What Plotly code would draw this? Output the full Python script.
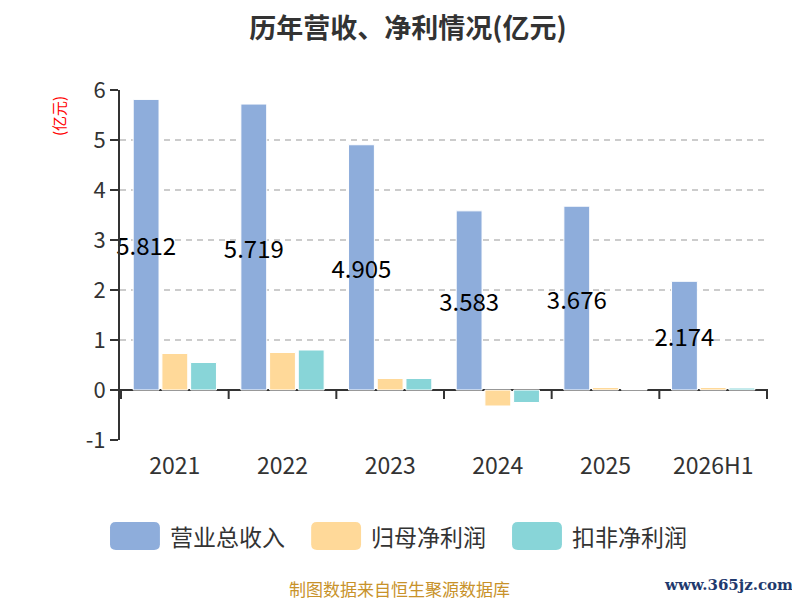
import plotly.graph_objects as go

# 数据 (亿元)
years = ["2021", "2022", "2023", "2024", "2025", "2026H1"]
revenue = [5.812, 5.719, 4.905, 3.583, 3.676, 2.174]
net_profit = [0.73, 0.75, 0.23, -0.32, 0.05, 0.05]
deducted_profit = [0.55, 0.80, 0.23, -0.25, 0.01, 0.04]

series_names = ["营业总收入", "归母净利润", "扣非净利润"]
colors = ["#8EADDB", "#FFD999", "#88D5D8"]

y_ticks = [-1, 0, 1, 2, 3, 4, 5, 6]
y_ticktext = ["-1", "0", "1", "2", "3", "4", "5", "6"]

font_cn = "Noto Sans CJK SC, Noto Sans, sans-serif"


# rounded rectangle path in paper coords
def round_rect(x0, y0, x1, y1, rx=0.009, ry=0.016):
    return (f"M {x0+rx},{y0} L {x1-rx},{y0} Q {x1},{y0} {x1},{y0-ry} "
            f"L {x1},{y1+ry} Q {x1},{y1} {x1-rx},{y1} L {x0+rx},{y1} "
            f"Q {x0},{y1} {x0},{y1+ry} L {x0},{y0-ry} Q {x0},{y0} {x0+rx},{y0} Z")


fig = go.Figure()
for name, vals, c in zip(series_names, [revenue, net_profit, deducted_profit], colors):
    fig.add_trace(go.Bar(
        x=years, y=vals, name=name,
        marker=dict(color=c, line=dict(color="white", width=1)),
        showlegend=False,
    ))

# revenue value labels in the middle of the bars
fig.data[0].update(
    text=[f"{v:.3f}" for v in revenue],
    textposition="inside", insidetextanchor="middle",
    textfont=dict(size=24, color="black", family=font_cn),
    textangle=0, constraintext="none", cliponaxis=False,
)

# tick marks on the zero line between categories
for i in range(len(years) + 1):
    fig.add_shape(type="line", xref="x", yref="y",
                  x0=i - 0.5, x1=i - 0.5, y0=0, y1=-9,
                  ysizemode="pixel", yanchor=0,
                  line=dict(color="#333333", width=2))

# custom legend (big rounded swatches)
legend_x = [-0.0154, 0.295, 0.605]
for name, c, lx in zip(series_names, colors, legend_x):
    fig.add_shape(type="path", xref="paper", yref="paper",
                  path=round_rect(lx, -0.234, lx + 0.077, -0.314),
                  fillcolor=c, line=dict(width=0))
    fig.add_annotation(xref="paper", yref="paper", x=lx + 0.09, y=-0.274,
                       text=name, showarrow=False, xanchor="left", yanchor="middle",
                       font=dict(size=23, color="#333333", family=font_cn))

fig.add_annotation(xref="paper", yref="paper", x=-0.094, y=0.926,
                   text="(亿元)", textangle=-90, showarrow=False,
                   xanchor="center", yanchor="middle",
                   font=dict(size=15, color="red", family=font_cn))
fig.add_annotation(xref="paper", yref="paper", x=0.432, y=-0.423,
                   text="制图数据来自恒生聚源数据库", showarrow=False,
                   xanchor="center", yanchor="middle",
                   font=dict(size=17, color="#C8922A", family=font_cn))
fig.add_annotation(xref="paper", yref="paper", x=1.042, y=-0.414,
                   text="<b>www.365jz.com</b>", showarrow=False,
                   xanchor="right", yanchor="middle",
                   font=dict(size=15, color="#1F3A6E", family="DejaVu Serif"))

fig.update_layout(
    width=800, height=600,
    paper_bgcolor="white", plot_bgcolor="white",
    margin=dict(l=112, r=40, t=82, b=168),
    title=dict(text="<b>历年营收、净利情况(亿元)</b>", x=0.5, y=0.966,
               xanchor="center", yanchor="middle",
               font=dict(size=27, color="#333333", family=font_cn)),
    barmode="group", bargap=0.2, bargroupgap=0.1,
    font=dict(family=font_cn, color="#333333"),
    xaxis=dict(showline=False, ticks="outside", ticklen=5, tickcolor="rgba(0,0,0,0)",
               tickfont=dict(size=23, color="#333333"), showgrid=False),
    yaxis=dict(range=[-1, 6], tickvals=y_ticks, ticktext=y_ticktext,
               showline=True, linecolor="#333333", linewidth=2,
               ticks="outside", ticklen=8, tickwidth=2, tickcolor="#333333",
               tickfont=dict(size=22, color="#333333"),
               showgrid=True, gridcolor="#CCCCCC", griddash="6px,5px", gridwidth=1.5,
               zeroline=True, zerolinecolor="#333333", zerolinewidth=2),
)

fig.write_html("out.html")
